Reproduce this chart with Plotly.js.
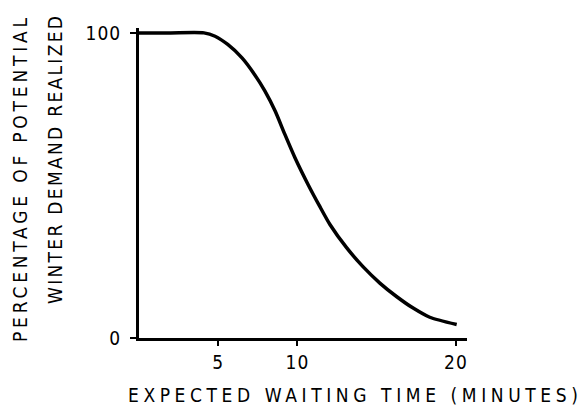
<!DOCTYPE html>
<html>
<head>
<meta charset="utf-8">
<script src="https://cdn.plot.ly/plotly-3.0.1.min.js"></script>
<style>
  html, body { margin: 0; padding: 0; background: #fff; }
  #chart { width: 588px; height: 407px; }
  .xtick text, .ytick text { letter-spacing: 1px; }
</style>
</head>
<body>
<div id="chart"></div>
<script>
// Expected waiting time (minutes)
const waitMinutes = [0, 2, 4.1, 4.8, 5.6, 6.5, 7.3, 7.95, 8.6, 9.2, 9.85, 10.7, 11.4, 12.05, 13.1, 14.15, 15.2, 16.25, 17.3, 18.35, 20.05];
// Percentage of potential winter demand realized
const demandPct   = [100, 100, 100, 98.9, 96.2, 91.8, 86.3, 80.9, 74.3, 66.8, 59.0, 50.0, 43.2, 37.2, 29.6, 23.3, 18.0, 13.6, 9.8, 6.8, 4.4];

const xTickVals = [5, 10, 20];
const xTickText = ['5', '10', '20'];
const yTickVals = [0, 100];
const yTickText = ['0', '100'];

const xTitle = 'EXPECTED WAITING TIME (MINUTES)';
const yTitleLine1 = 'PERCENTAGE OF POTENTIAL';
const yTitleLine2 = 'WINTER DEMAND REALIZED';

const FONT = 'DejaVu Sans Condensed, DejaVu Sans, sans-serif';
const spaced = (t, px) => '<span style="letter-spacing:' + px + 'px">' + t + '</span>';

const trace = {
  x: waitMinutes,
  y: demandPct,
  type: 'scatter',
  mode: 'lines',
  line: { color: '#000', width: 3.5, shape: 'spline', smoothing: 0.6 },
  hoverinfo: 'skip'
};

const layout = {
  width: 588,
  height: 407,
  margin: { l: 139, r: 121, t: 28, b: 69, pad: 0 },
  paper_bgcolor: '#fff',
  plot_bgcolor: '#fff',
  showlegend: false,
  font: { family: FONT, color: '#000', size: 19 },
  xaxis: {
    range: [0, 20.7],
    tickmode: 'array',
    tickvals: xTickVals,
    ticktext: xTickText,
    ticks: 'outside',
    ticklen: 5,
    tickwidth: 2,
    tickcolor: '#000',
    ticklabelstandoff: 11.5,
    showline: true,
    linecolor: '#000',
    linewidth: 3,
    showgrid: false,
    zeroline: false,
    tickfont: { family: FONT, size: 19, color: '#000' },
    fixedrange: true
  },
  yaxis: {
    range: [0, 101.6],
    tickmode: 'array',
    tickvals: yTickVals,
    ticktext: yTickText,
    ticks: 'outside',
    ticklen: 6,
    tickwidth: 2,
    tickcolor: '#000',
    ticklabelstandoff: 5,
    showline: true,
    linecolor: '#000',
    linewidth: 3,
    showgrid: false,
    zeroline: false,
    tickfont: { family: FONT, size: 19, color: '#000' },
    fixedrange: true
  },
  annotations: [
    {
      text: spaced(xTitle, 4.6), xref: 'paper', yref: 'paper',
      x: 0.6585, y: -0.184, xanchor: 'center', yanchor: 'middle',
      showarrow: false, font: { family: FONT, size: 19, color: '#000' }
    },
    {
      text: spaced(yTitleLine1, 3.8), xref: 'paper', yref: 'paper',
      x: -0.3628, y: 1.0516, xanchor: 'center', yanchor: 'top', textangle: -90,
      showarrow: false, font: { family: FONT, size: 19, color: '#000' }
    },
    {
      text: spaced(yTitleLine2, 2.3), xref: 'paper', yref: 'paper',
      x: -0.256, y: 1.0516, xanchor: 'center', yanchor: 'top', textangle: -90,
      showarrow: false, font: { family: FONT, size: 19, color: '#000' }
    }
  ]
};

Plotly.newPlot('chart', [trace], layout, { displayModeBar: false, staticPlot: true });
</script>
</body>
</html>
